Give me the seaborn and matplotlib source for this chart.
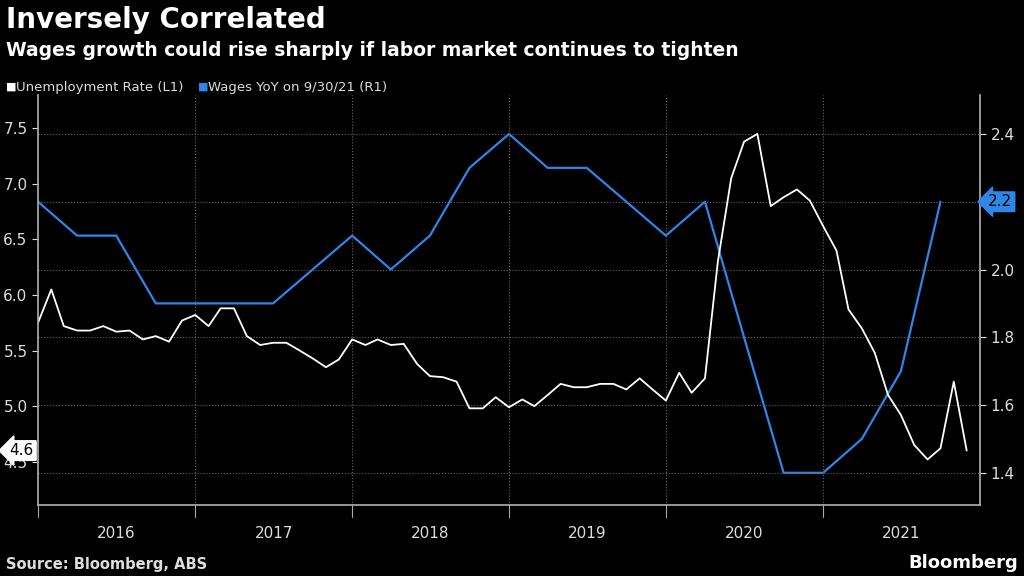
import matplotlib
matplotlib.use("Agg")
import matplotlib.pyplot as plt
import seaborn as sns
import pandas as pd
import numpy as np

unemp = [5.75,6.05,5.72,5.68,5.68,5.72,5.67,5.68,5.6,5.63,5.58,5.77,5.82,5.72,5.88,5.88,5.63,5.55,5.57,5.57,
         5.5,5.43,5.35,5.42,5.6,5.55,5.6,5.55,5.56,5.38,5.27,5.26,5.22,4.98,4.98,5.08,4.99,5.06,5.0,5.1,
         5.2,5.17,5.17,5.2,5.2,5.15,5.25,5.15,5.05,5.3,5.12,5.25,6.3,7.05,7.38,7.45,6.8,6.88,6.95,6.85,
         6.62,6.4,5.87,5.7,5.48,5.1,4.92,4.65,4.52,4.62,5.22,4.6]
wages = [2.2,2.1,2.1,1.9,1.9,1.9,1.9,2.0,2.1,2.0,2.1,2.3,2.4,2.3,2.3,2.2,2.1,2.2,1.8,1.4,1.4,1.5,1.7,2.2]
years = ["2016","2017","2018","2019","2020","2021"]

months = pd.date_range("2015-12-31", periods=len(unemp), freq="ME")
quarters = pd.date_range("2015-12-31", periods=len(wages), freq="QE")
du = pd.DataFrame({"date": months, "v": unemp})
dw = pd.DataFrame({"date": quarters, "v": wages})

sns.set_theme(style="dark")
plt.rcParams['font.family'] = ['DejaVu Sans']
fig = plt.figure(figsize=(10.24, 5.76), dpi=100, facecolor="black")
ax = fig.add_axes([38/1024, 71/576, 942/1024, 410/576])
ax2 = ax.twinx()
for a in (ax, ax2):
    a.set_facecolor("black")
ax.set_zorder(ax2.get_zorder()+1); ax.patch.set_visible(False)

sns.lineplot(data=du, x="date", y="v", ax=ax, color="white", lw=1.3)
sns.lineplot(data=dw, x="date", y="v", ax=ax2, color="#2e86e8", lw=1.6)

x0 = pd.Timestamp("2015-12-31"); x1 = pd.Timestamp("2021-12-31")
ax.set_xlim(x0, x1)
ax.set_ylim(4.11, 7.8); ax2.set_ylim(1.305, 2.515)
ax.set_yticks([4.5,5.0,5.5,6.0,6.5,7.0,7.5]); ax.set_yticklabels(["4.5","5.0","5.5","6.0","6.5","7.0","7.5"])
ax2.set_yticks([1.4,1.6,1.8,2.0,2.2,2.4]); ax2.set_yticklabels(["1.4","1.6","1.8","2.0","","2.4"])
for a in (ax, ax2):
    a.set_xlabel(""); a.set_ylabel("")
    a.tick_params(colors="#dddddd", labelsize=11, length=4, width=0.8)
    for s in a.spines.values(): s.set_visible(False)
ax.spines["left"].set_visible(True); ax.spines["left"].set_color("#aaaaaa")
ax2.spines["right"].set_visible(True); ax2.spines["right"].set_color("#aaaaaa")
ax2.spines["bottom"].set_visible(True); ax2.spines["bottom"].set_color("#aaaaaa")
ax.tick_params(axis="y", left=True, direction="out")
ax2.tick_params(axis="y", right=True, direction="out")
for y in [1.4,1.6,1.8,2.0,2.2,2.4]:
    ax2.axhline(y, color="#666666", ls=":", lw=0.8)
bounds = [pd.Timestamp(f"{y}-12-31") for y in range(2016, 2021)]
for b in bounds:
    ax2.axvline(b, color="#666666", ls=":", lw=0.8)
ax.set_xticks([]); ax2.set_xticks([])
edges = [x0] + bounds + [x1]
for i, yl in enumerate(years):
    mid = edges[i] + (edges[i+1]-edges[i])/2
    ax.text(mid, -0.05, yl, transform=ax.get_xaxis_transform(), ha="center", va="top", color="#dddddd", fontsize=11)
    ax.plot([edges[i], edges[i]], [0, -0.03], transform=ax.get_xaxis_transform(), color="#aaaaaa", lw=0.8, clip_on=False)

ax.annotate("4.6", xy=(0, 4.6), xycoords=("axes fraction", "data"), xytext=(-3, 0), textcoords="offset points",
            ha="right", va="center", fontsize=11, color="black", zorder=10,
            bbox=dict(boxstyle="larrow,pad=0.15", fc="white", ec="white"))
ax2.annotate("2.2", xy=(1, 2.2), xycoords=("axes fraction", "data"), xytext=(6, 0), textcoords="offset points",
             ha="left", va="center", fontsize=11, color="black",
             bbox=dict(boxstyle="larrow,pad=0.15", fc="#2e86e8", ec="#2e86e8"))

fig.text(6/1024, 1-20/576, "Inversely Correlated", color="white", fontsize=20, fontweight="bold", va="center")
fig.text(6/1024, 1-50/576, "Wages growth could rise sharply if labor market continues to tighten", color="white", fontsize=13.5, fontweight="bold", va="center")
fig.text(6/1024, 1-87/576, "■", color="white", fontsize=8, va="center")
fig.text(16/1024, 1-87/576, "Unemployment Rate (L1)", color="#dddddd", fontsize=9.5, va="center")
fig.text(198/1024, 1-87/576, "■", color="#2e86e8", fontsize=8, va="center")
fig.text(208/1024, 1-87/576, "Wages YoY on 9/30/21 (R1)", color="#dddddd", fontsize=9.5, va="center")
fig.text(6/1024, 1-565/576, "Source: Bloomberg, ABS", color="#dddddd", fontsize=10.5, fontweight="bold", va="center")
fig.text(1018/1024, 1-563/576, "Bloomberg", color="white", fontsize=13, fontweight="bold", ha="right", va="center")
fig.savefig("out.png", dpi=100, facecolor="black")
